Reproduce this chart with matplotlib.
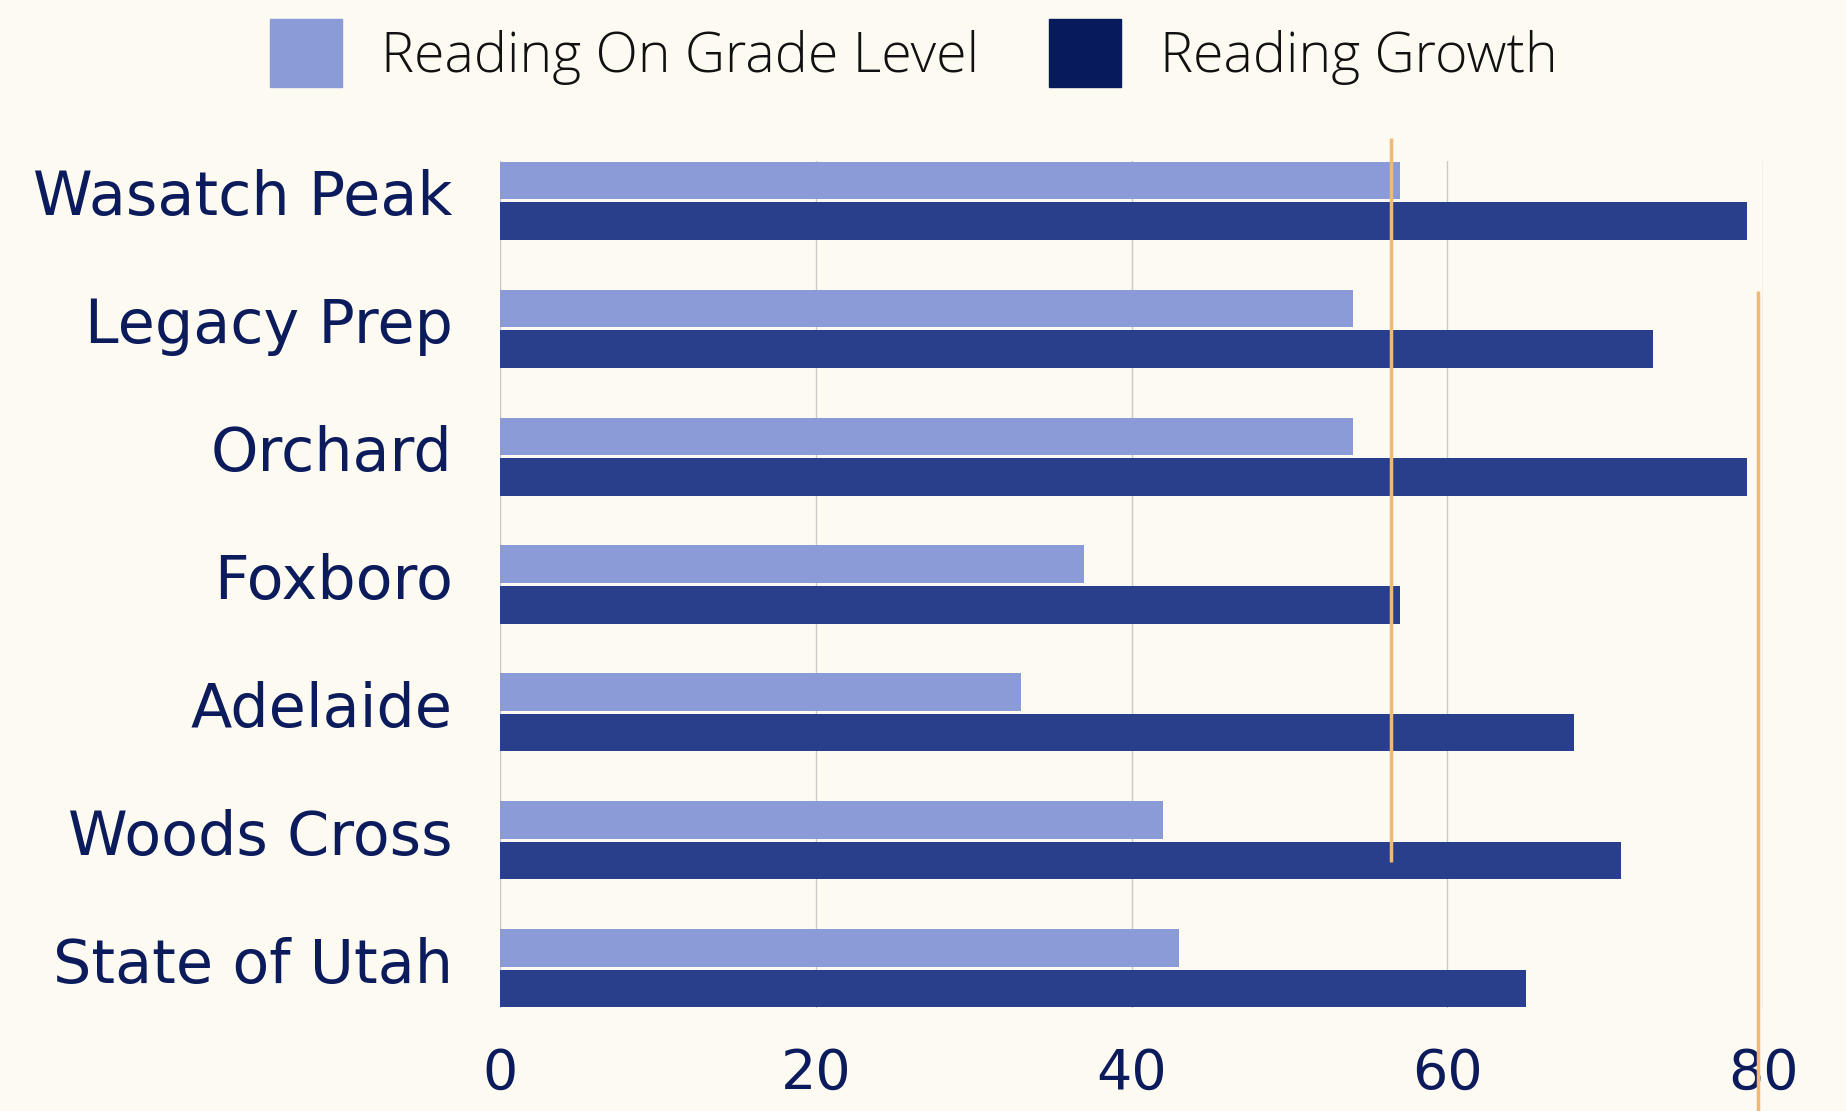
import matplotlib.pyplot as plt
from matplotlib.patches import Patch
import matplotlib.transforms as mtransforms
import numpy as np

schools = ['Wasatch Peak', 'Legacy Prep', 'Orchard', 'Foxboro',
           'Adelaide', 'Woods Cross', 'State of Utah']
on_grade = [57, 54, 54, 37, 33, 42, 43]
growth = [79, 73, 79, 57, 68, 71, 65]
xticks = [0, 20, 40, 60, 80]

# the two orange marker lines (x value, y start, y end in category units)
ref_x = [56.4, 79.7]
ref_y0 = [-0.49, 0.71]
ref_y1 = [5.17, 7.15]

bg = '#FDFAF2'
light = '#8A9BD8'
dark = '#2A3F8C'
navy = '#0B1B5C'
orange = '#F0B97A'

fig = plt.figure(figsize=(18.46, 11.11), dpi=100, facecolor=bg)
ax = fig.add_axes([0.2709, 0.0927, 0.6842, 0.7624])
ax.set_facecolor(bg)

y = np.arange(len(schools))
h = 0.295
ax.barh(y - h / 2 - 0.01, on_grade, height=h, color=light, zorder=2)
ax.barh(y + h / 2 + 0.01, growth, height=h, color=dark, zorder=2)

for xv, a, b in zip(ref_x, ref_y0, ref_y1):
    ax.vlines(xv, a, b, color=orange, lw=2.5, zorder=3, clip_on=False)

ax.set_xlim(0, 80)
ax.set_ylim(6.31, -0.31)
ax.set_xticks(xticks)
ax.set_yticks(y)
ax.set_yticklabels(schools)
ax.grid(axis='x', color='#C9C9C9', lw=1, zorder=0)
for s in ax.spines.values():
    s.set_visible(False)
ax.tick_params(length=0)
ax.tick_params(axis='y', pad=34, labelsize=43.5, labelcolor=navy)
ax.tick_params(axis='x', pad=28, labelsize=40, labelcolor=navy)
for t in ax.get_xticklabels():
    t.set_family(['Liberation Sans Narrow', 'DejaVu Sans'])
up = mtransforms.ScaledTranslation(0, 6 / 72, fig.dpi_scale_trans)
for t in ax.get_yticklabels():
    t.set_family('DejaVu Sans')
    t.set_transform(t.get_transform() + up)

handles = [Patch(color=light, label='Reading On Grade Level'),
           Patch(color='#061A5C', label='Reading Growth')]
leg = fig.legend(handles=handles, loc='center', ncol=2,
                 bbox_to_anchor=(0.495, 0.952), frameon=False,
                 prop={'family': 'Open Sans', 'weight': 'light', 'size': 40},
                 handlelength=1.3, handleheight=1.5, handletextpad=0.7,
                 columnspacing=1.25)
for t in leg.get_texts():
    t.set_color('#111111')

fig.savefig('out.png', dpi=100, facecolor=bg)
